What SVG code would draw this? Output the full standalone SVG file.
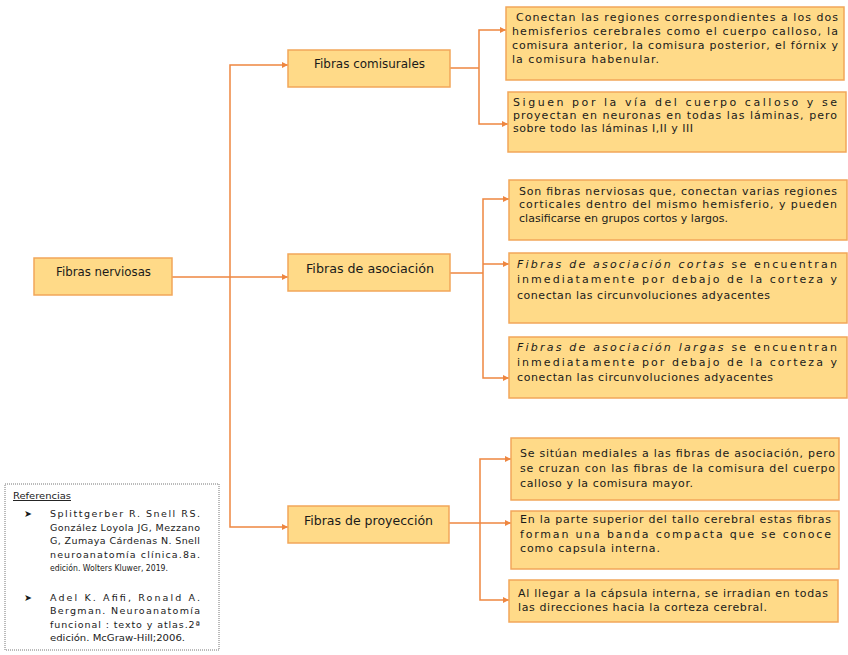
<svg xmlns="http://www.w3.org/2000/svg" width="848" height="655" viewBox="0 0 848 655">
<style>
.box{fill:#FFDA88;stroke:#F2A65A;stroke-width:1.5}
.lbl{font-family:"DejaVu Sans",sans-serif;font-size:12.5px;fill:#1a1a1a}
.t{font-family:"DejaVu Sans",sans-serif;font-size:11px;fill:#1a1a1a}
.i{font-style:italic}
.ref{font-family:"DejaVu Sans",sans-serif;font-size:9.5px;fill:#1a1a1a}
.c{fill:none;stroke:#EE8640;stroke-width:1.5}
.ca{fill:none;stroke:#EE8640;stroke-width:1.5;marker-end:url(#ah)}
</style>
<defs>
<marker id="ah" markerUnits="userSpaceOnUse" markerWidth="7" markerHeight="7" refX="6" refY="3" orient="auto">
<path d="M0,0 L6,3 L0,6 z" fill="#EE8640"/>
</marker>
</defs>
<rect width="848" height="655" fill="#ffffff"/>

<g id="connectors">
<path class="ca" d="M172,277 H288"/>
<path class="ca" d="M230,277 V65 H288"/>
<path class="ca" d="M230,277 V527 H288"/>
<path class="c" d="M450,68 H479"/>
<path class="ca" d="M479,68 V30 H506"/>
<path class="ca" d="M479,68 V124 H508"/>
<path class="c" d="M450,273 H483"/>
<path class="ca" d="M483,273 V199 H509"/>
<path class="ca" d="M483,264 H509"/>
<path class="ca" d="M483,273 V378 H509"/>
<path class="c" d="M449,523 H480"/>
<path class="ca" d="M480,523 V459 H511"/>
<path class="ca" d="M480,523 H511"/>
<path class="ca" d="M480,523 V600 H509"/>
</g>

<g id="fibras-nerviosas">
<rect class="box" x="34" y="258" width="138" height="37"/>
<text class="lbl" x="56" y="276" textLength="95" lengthAdjust="spacingAndGlyphs">Fibras nerviosas</text>
</g>

<g id="fibras-comisurales">
<rect class="box" x="288" y="50" width="162" height="37"/>
<text class="lbl" x="314" y="68" textLength="111" lengthAdjust="spacingAndGlyphs">Fibras comisurales</text>
</g>

<g id="fibras-asociacion">
<rect class="box" x="288" y="254" width="162" height="37"/>
<text class="lbl" x="306" y="272.5" textLength="128" lengthAdjust="spacingAndGlyphs">Fibras de asociación</text>
</g>

<g id="fibras-proyeccion">
<rect class="box" x="288" y="506" width="161" height="37"/>
<text class="lbl" x="304" y="524.5" textLength="129" lengthAdjust="spacingAndGlyphs">Fibras de proyección</text>
</g>

<g id="comisurales-1">
<rect class="box" x="506" y="7" width="338" height="73"/>
<text class="t" x="516" y="21" textLength="322" lengthAdjust="spacing">Conectan las regiones correspondientes a los dos</text>
<text class="t" x="512" y="35" textLength="326" lengthAdjust="spacing">hemisferios cerebrales como el cuerpo calloso, la</text>
<text class="t" x="512" y="49" textLength="326" lengthAdjust="spacing">comisura anterior, la comisura posterior, el fórnix y</text>
<text class="t" x="512" y="63" textLength="147" lengthAdjust="spacing">la comisura habenular.</text>
</g>

<g id="comisurales-2">
<rect class="box" x="508" y="92" width="338" height="60"/>
<text class="t" x="513" y="106" textLength="324" lengthAdjust="spacing">Siguen por la vía del cuerpo calloso y se</text>
<text class="t" x="513" y="119" textLength="324" lengthAdjust="spacing">proyectan en neuronas en todas las láminas, pero</text>
<text class="t" x="513" y="132" textLength="180" lengthAdjust="spacing">sobre todo las láminas I,II y III</text>
</g>

<g id="asociacion-1">
<rect class="box" x="509" y="180" width="338" height="60"/>
<text class="t" x="519" y="195" textLength="318" lengthAdjust="spacing">Son fibras nerviosas que, conectan varias regiones</text>
<text class="t" x="519" y="208" textLength="318" lengthAdjust="spacing">corticales dentro del mismo hemisferio, y pueden</text>
<text class="t" x="519" y="222" textLength="209" lengthAdjust="spacing">clasificarse en grupos cortos y largos.</text>
</g>

<g id="asociacion-2">
<rect class="box" x="509" y="253" width="338" height="70"/>
<text class="t" x="517" y="268" textLength="320" lengthAdjust="spacing"><tspan class="i">Fibras de asociación cortas</tspan> se encuentran</text>
<text class="t" x="517" y="283" textLength="320" lengthAdjust="spacing">inmediatamente por debajo de la corteza y</text>
<text class="t" x="517" y="299" textLength="253" lengthAdjust="spacing">conectan las circunvoluciones adyacentes</text>
</g>

<g id="asociacion-3">
<rect class="box" x="509" y="337" width="338" height="61"/>
<text class="t" x="517" y="351" textLength="320" lengthAdjust="spacing"><tspan class="i">Fibras de asociación largas</tspan> se encuentran</text>
<text class="t" x="517" y="366" textLength="320" lengthAdjust="spacing">inmediatamente por debajo de la corteza y</text>
<text class="t" x="517" y="381" textLength="256" lengthAdjust="spacing">conectan las circunvoluciones adyacentes</text>
</g>

<g id="proyeccion-1">
<rect class="box" x="511" y="438" width="328" height="62"/>
<text class="t" x="520" y="457" textLength="315" lengthAdjust="spacing">Se sitúan mediales a las fibras de asociación, pero</text>
<text class="t" x="520" y="472" textLength="315" lengthAdjust="spacing">se cruzan con las fibras de la comisura del cuerpo</text>
<text class="t" x="520" y="487" textLength="173" lengthAdjust="spacing">calloso y la comisura mayor.</text>
</g>

<g id="proyeccion-2">
<rect class="box" x="511" y="511" width="328" height="58"/>
<text class="t" x="520" y="523" textLength="311" lengthAdjust="spacing">En la parte superior del tallo cerebral estas fibras</text>
<text class="t" x="520" y="538" textLength="311" lengthAdjust="spacing">forman una banda compacta que se conoce</text>
<text class="t" x="520" y="552" textLength="140" lengthAdjust="spacing">como capsula interna.</text>
</g>

<g id="proyeccion-3">
<rect class="box" x="509" y="580" width="329" height="42"/>
<text class="t" x="518" y="597" textLength="310" lengthAdjust="spacing">Al llegar a la cápsula interna, se irradian en todas</text>
<text class="t" x="518" y="611" textLength="249" lengthAdjust="spacing">las direcciones hacia la corteza cerebral.</text>
</g>

<g id="referencias">
<rect x="5" y="484" width="214" height="166" fill="#ffffff" stroke="#777" stroke-width="1" stroke-dasharray="1,1"/>
<text class="ref" x="13" y="499" text-decoration="underline" textLength="58" lengthAdjust="spacingAndGlyphs">Referencias</text>
<text class="ref" x="24" y="517">➤</text>
<text class="ref" x="50" y="517" textLength="150" lengthAdjust="spacing">Splittgerber R. Snell RS.</text>
<text class="ref" x="50" y="530.5" textLength="150" lengthAdjust="spacing">González Loyola JG, Mezzano</text>
<text class="ref" x="50" y="544" textLength="150" lengthAdjust="spacing">G, Zumaya Cárdenas N. Snell</text>
<text class="ref" x="50" y="557.5" textLength="150" lengthAdjust="spacing">neuroanatomía clínica.8a.</text>
<text class="ref" x="50" y="571" textLength="118" lengthAdjust="spacingAndGlyphs">edición. Wolters Kluwer, 2019.</text>
<text class="ref" x="24" y="601">➤</text>
<text class="ref" x="50" y="601" textLength="150" lengthAdjust="spacing">Adel K. Afifi, Ronald A.</text>
<text class="ref" x="50" y="614" textLength="150" lengthAdjust="spacing">Bergman. Neuroanatomía</text>
<text class="ref" x="50" y="627.5" textLength="150" lengthAdjust="spacing">funcional : texto y atlas.2ª</text>
<text class="ref" x="50" y="641" textLength="135" lengthAdjust="spacingAndGlyphs">edición. McGraw-Hill;2006.</text>
</g>
</svg>
